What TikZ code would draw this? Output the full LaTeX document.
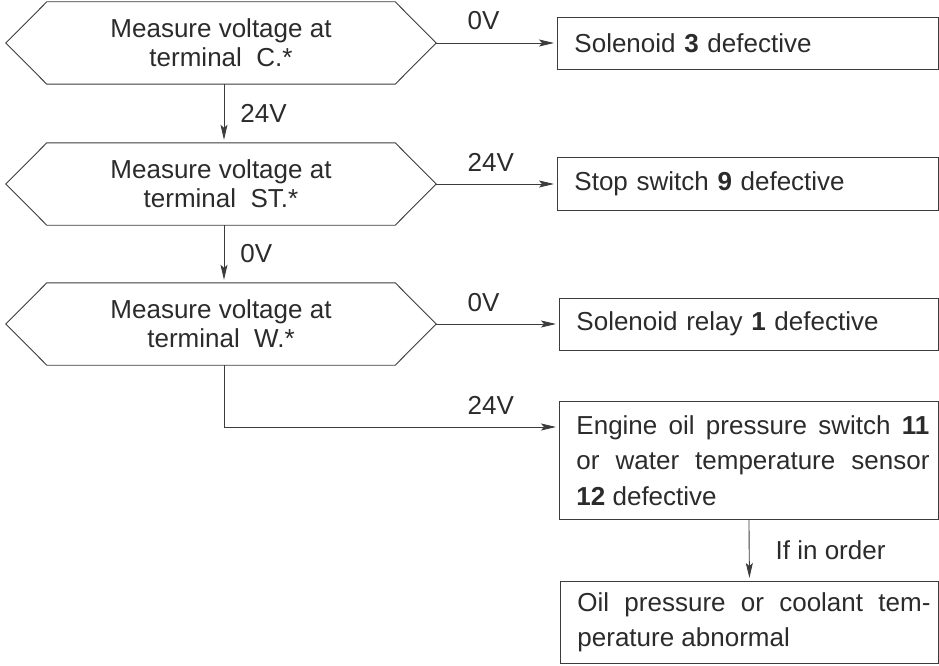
\documentclass[tikz,border=0pt]{standalone}
\usepackage{fontspec}
\setmainfont{Liberation Sans}
\usetikzlibrary{arrows.meta,calc}
\definecolor{ink}{HTML}{2B2B2B}
\definecolor{linec}{HTML}{3C3C3C}
\newcommand\padL{\hspace*{17pt}}
\newcommand\jtext[1]{\hspace*{17pt}\parbox{353pt}{\leftskip=0pt\rightskip=0pt\spaceskip=0pt\xspaceskip=0pt\parfillskip=0pt plus 1fil\relax #1}}
\begin{document}
\begin{tikzpicture}[x=1pt,y=-1pt,
  every node/.style={text=ink},
  arr/.style={draw=linec, line width=0.9pt, -{Stealth[length=15pt,width=7pt,inset=3pt]}, shorten >=3pt},
  hexline/.style={draw=linec, line width=0.9pt, line join=miter},
  hexnode/.style={minimum width=430pt, minimum height=82pt, inner sep=0pt, align=center, font=\fontsize{26}{29}\selectfont},
  boxnode/.style={draw=linec, line width=0.9pt, inner xsep=0pt, inner ysep=0pt, align=left, font=\fontsize{26}{35.5}\selectfont},
  lbl/.style={inner sep=0pt, font=\fontsize{26}{29}\selectfont},
]
\useasboundingbox (0,0) rectangle (939,666);
\node[hexnode] (h1) at (221,43) {Measure voltage at\\terminal~~C.*};
\node[hexnode] (h2) at (221,184) {Measure voltage at\\terminal~~ST.*};
\node[hexnode] (h3) at (221,324) {Measure voltage at\\terminal~~W.*};
\foreach \h in {h1,h2,h3}
  \draw[hexline] (\h.west) -- ([xshift=41pt]\h.north west) -- ([xshift=-41pt]\h.north east) -- (\h.east) -- ([xshift=-41pt]\h.south east) -- ([xshift=41pt]\h.south west) -- cycle;

\node[boxnode, text width=381pt, minimum height=52pt, anchor=west] (b1) at (557,43) {\padL Solenoid \textbf{3} defective};
\node[boxnode, text width=381pt, minimum height=53pt, anchor=west] (b2) at (557,184) {\padL Stop switch \textbf{9} defective};
\node[boxnode, text width=379pt, minimum height=52pt, anchor=west] (b3) at (559,324) {\padL Solenoid relay \textbf{1} defective};
\node[boxnode, text width=379pt, minimum height=118pt, anchor=north west] (b4) at (559,401) {\jtext{Engine oil pressure switch \textbf{11}\linebreak or water temperature sensor\linebreak \textbf{12} defective}};
\node[boxnode, text width=378pt, minimum height=82pt, anchor=north west] (b5) at (560,581) {\jtext{Oil pressure or coolant tem-\linebreak perature abnormal}};

\draw[arr] (h1.east) -- (h1.east -| b1.west) node[lbl, pos=0, anchor=base west, xshift=31pt, yshift=13pt] {0V};
\draw[arr] (h2.east) -- (h2.east -| b2.west) node[lbl, pos=0, anchor=base west, xshift=31pt, yshift=13pt] {24V};
\draw[arr] (h3.east) -- (h3.east -| b3.west) node[lbl, pos=0, anchor=base west, xshift=31pt, yshift=13pt] {0V};
\draw[arr] ([xshift=3pt]h1.south) -- ([xshift=3pt]h2.north) node[lbl, midway, anchor=west, xshift=16pt] {24V};
\draw[arr] ([xshift=3pt]h2.south) -- ([xshift=3pt]h3.north) node[lbl, midway, anchor=west, xshift=16pt] {0V};
\coordinate (k) at (224,427);
\draw[arr] ([xshift=3pt]h3.south) |- (k -| b4.west) node[lbl, pos=0.863, anchor=base west, yshift=13pt] {24V};
\draw[arr] (b4.south) -- (b5.north) node[lbl, midway, anchor=west, xshift=26pt] {If in order};
\end{tikzpicture}
\end{document}
